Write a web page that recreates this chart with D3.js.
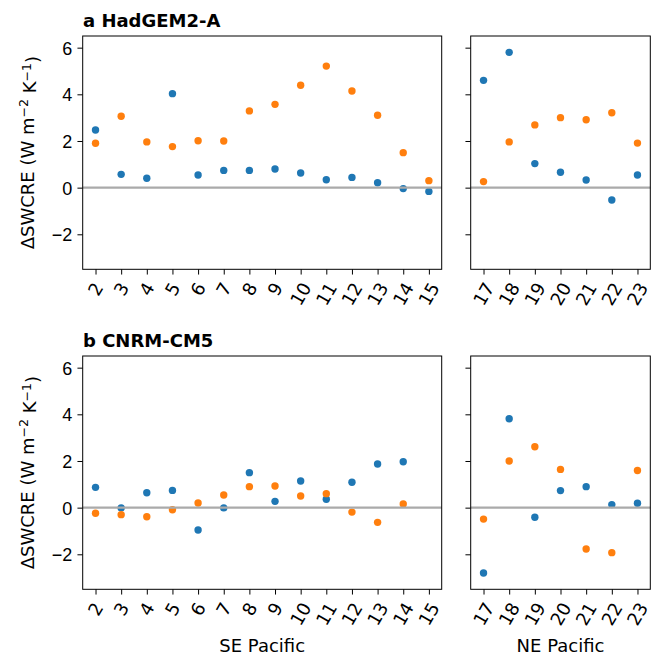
<!DOCTYPE html>
<html>
<head>
<meta charset="utf-8">
<script src="https://cdn.jsdelivr.net/npm/d3@7"></script>
<style>
  body { margin: 0; background: #fff; }
  svg { display: block; font-family: "DejaVu Sans", sans-serif; }
  .tick text { font-size: 18px; fill: #000; }
  .title { font-size: 18px; font-weight: bold; }
  .axis-label { font-size: 18px; }
</style>
</head>
<body>
<div id="chart"></div>
<script>
// Region numbers on the x axis
const seRegions = [2, 3, 4, 5, 6, 7, 8, 9, 10, 11, 12, 13, 14, 15];
const neRegions = [17, 18, 19, 20, 21, 22, 23];
const yTicks = [-2, 0, 2, 4, 6];

// a HadGEM2-A
const hadSeBlue   = [2.47, 0.57, 0.40, 4.03, 0.54, 0.74, 0.74, 0.80, 0.63, 0.34, 0.44, 0.21, -0.04, -0.16];
const hadSeOrange = [1.90, 3.06, 1.96, 1.76, 2.01, 2.00, 3.29, 3.57, 4.39, 5.21, 4.14, 3.10, 1.50, 0.30];
const hadNeBlue   = [4.60, 5.80, 1.03, 0.66, 0.33, -0.53, 0.54];
const hadNeOrange = [0.26, 1.96, 2.69, 3.00, 2.91, 3.21, 1.91];

// b CNRM-CM5 (no value for region 15)
const cnrmSeBlue   = [0.87, -0.01, 0.64, 0.74, -0.96, -0.01, 1.50, 0.27, 1.14, 0.36, 1.09, 1.87, 1.97, null];
const cnrmSeOrange = [-0.24, -0.30, -0.39, -0.09, 0.20, 0.54, 0.90, 0.93, 0.50, 0.60, -0.19, -0.63, 0.16, null];
const cnrmNeBlue   = [-2.80, 3.81, -0.41, 0.73, 0.90, 0.13, 0.19];
const cnrmNeOrange = [-0.49, 2.00, 2.61, 1.64, -1.77, -1.93, 1.59];

const BLUE = "#1f77b4", ORANGE = "#ff7f0e";

const W = 652, H = 656;
const svg = d3.select("#chart").append("svg").attr("width", W).attr("height", H);

const rows = [
  { title: "a HadGEM2-A", top: 36, se: [hadSeBlue, hadSeOrange], ne: [hadNeBlue, hadNeOrange] },
  { title: "b CNRM-CM5", top: 356, se: [cnrmSeBlue, cnrmSeOrange], ne: [cnrmNeBlue, cnrmNeOrange] }
];
const panelH = 233.3;
const cols = [
  { key: "se", left: 82.7, right: 441.7, regions: seRegions, label: "SE Pacific", yLabels: true },
  { key: "ne", left: 470.7, right: 650.3, regions: neRegions, label: "NE Pacific", yLabels: false }
];

const tickLen = 5.25, tickPad = 5.25;

rows.forEach((row, ri) => {
  const y = d3.scaleLinear().domain([-3.5, 6.5]).range([row.top + panelH, row.top]);

  cols.forEach(col => {
    const regs = col.regions;
    const x = d3.scaleLinear()
      .domain([regs[0] - 0.5, regs[regs.length - 1] + 0.5])
      .range([col.left, col.right]);
    const g = svg.append("g");

    // y axis
    const yAxis = g.append("g")
      .attr("transform", `translate(${col.left},0)`)
      .call(d3.axisLeft(y).tickValues(yTicks).tickSize(tickLen).tickPadding(tickPad)
        .tickFormat(d => col.yLabels ? (d < 0 ? "\u2212" + Math.abs(d) : d) : ""));
    yAxis.select(".domain").remove();
    yAxis.selectAll(".tick line").attr("stroke", "#000").attr("stroke-width", 1);
    yAxis.selectAll(".tick text").attr("dy", "0.36em");

    // x axis with rotated labels
    const xAxis = g.append("g")
      .attr("transform", `translate(0,${row.top + panelH})`)
      .call(d3.axisBottom(x).tickValues(regs).tickSize(tickLen).tickFormat(""));
    xAxis.select(".domain").remove();
    xAxis.selectAll(".tick line").attr("stroke", "#000").attr("stroke-width", 1);

    const labTop = row.top + panelH + tickLen + tickPad;
    regs.forEach(r => {
      const lg = g.append("g");
      const t = lg.append("text")
        .attr("text-anchor", "middle")
        .attr("dominant-baseline", "central")
        .style("font-size", "18px")
        .text(r);
      const bb = t.node().getBBox();
      const a = Math.PI / 3;
      const hh = bb.width * Math.sin(a) + bb.height * 0.8 * Math.cos(a);
      lg.attr("transform", `translate(${x(r)},${labTop + hh / 2}) rotate(-60)`);
    });

    // points
    const [blue, orange] = row[col.key];
    [[blue, BLUE], [orange, ORANGE]].forEach(([vals, color]) => {
      g.append("g").selectAll("circle")
        .data(regs.map((r, i) => ({ r, v: vals[i] })).filter(d => d.v !== null))
        .join("circle")
        .attr("cx", d => x(d.r))
        .attr("cy", d => y(d.v))
        .attr("r", 3.7)
        .attr("fill", color);
    });

    // zero line
    g.append("line")
      .attr("x1", col.left).attr("x2", col.right)
      .attr("y1", y(0)).attr("y2", y(0))
      .attr("stroke", "#aaaaaa").attr("stroke-width", 2.2);

    // frame
    g.append("rect")
      .attr("x", col.left).attr("y", row.top)
      .attr("width", col.right - col.left).attr("height", panelH)
      .attr("fill", "none").attr("stroke", "#000").attr("stroke-width", 1);

    if (ri === 1) {
      g.append("text")
        .attr("class", "axis-label")
        .attr("x", (col.left + col.right) / 2)
        .attr("y", 652)
        .attr("text-anchor", "middle")
        .text(col.label);
    }
  });

  // panel title
  svg.append("text")
    .attr("class", "title")
    .attr("x", 83)
    .attr("y", row.top - 9.5)
    .text(row.title);

  // y label
  const yl = svg.append("text")
    .attr("class", "axis-label")
    .attr("text-anchor", "middle")
    .attr("transform", `translate(34,${row.top + panelH / 2}) rotate(-90)`);
  yl.append("tspan").text("\u0394SWCRE (W m");
  yl.append("tspan").attr("dy", "-0.45em").style("font-size", "12.5px").text("\u22122");
  yl.append("tspan").attr("dy", "0.45em").text(" K");
  yl.append("tspan").attr("dy", "-0.45em").style("font-size", "12.5px").text("\u22121");
  yl.append("tspan").attr("dy", "0.45em").text(")");
});
</script>
</body>
</html>
